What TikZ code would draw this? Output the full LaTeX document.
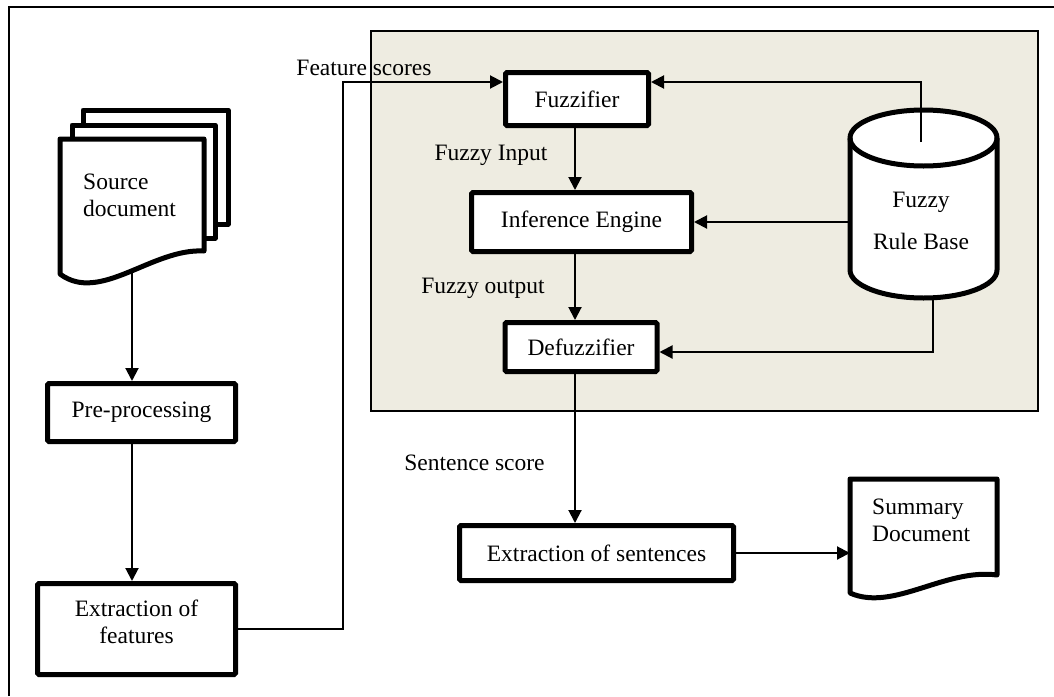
\documentclass[tikz,border=0pt]{standalone}
\usepackage{fontspec}
\setmainfont{Liberation Serif}
\usetikzlibrary{arrows.meta}
\definecolor{panelfill}{RGB}{238,236,225}
\tikzset{
  lbl/.style={font=\fontsize{23.5}{27}\selectfont, inner sep=0pt},
  box/.style={lbl, draw, line width=5pt, fill=white, rounded corners=1.5pt, align=center},
  doc/.style={draw, line width=5pt, fill=white, line join=round},
  link/.style={line width=2pt},
  arr/.style={link, -{Triangle[length=13pt,width=13pt]}},
  panel/.style={draw, line width=2pt, fill=panelfill},
}
\begin{document}
\begin{tikzpicture}[x=1pt,y=-1pt]
\useasboundingbox (0,0) rectangle (1054,696);

% outer frame
\draw[link] (9,696) -- (9,7) -- (1054,7);

% fuzzy inference system panel
\node[panel, minimum width=667pt, minimum height=380pt] (fis) at (704.5,221) {};

% stack of source documents
\draw[doc] (83,110) rectangle (228,224);
\draw[doc] (72,125) rectangle (215,238);
\draw[doc] (60,139) -- (60,274) .. controls (100,304) and (152,248) .. (204,251) -- (204,139) -- cycle;
\node[lbl, align=left, anchor=west] (srctext) at (83,195.5) {Source\\document};
\coordinate (srcbot) at (132,271);

% fuzzy rule base cylinder
\draw[doc] (850,138) -- (850,270)
  .. controls (850,285.46) and (882.9,298) .. (923.5,298)
  .. controls (964.1,298) and (997,285.46) .. (997,270)
  -- (997,138)
  .. controls (997,122.54) and (964.1,110) .. (923.5,110)
  .. controls (882.9,110) and (850,122.54) .. (850,138) -- cycle;
\draw[doc, fill=none] (850,138)
  .. controls (850,153.46) and (882.9,166) .. (923.5,166)
  .. controls (964.1,166) and (997,153.46) .. (997,138);
\node[lbl, align=center] (rulebase) at (921,221) {Fuzzy\\[15pt]Rule Base};
\coordinate (rbtop) at (921,142);
\coordinate (rbleft) at (850,222);
\coordinate (rbbot) at (933,298);
\coordinate (rbturn) at (933,352);

% summary document
\draw[doc] (850,479) -- (850,593) .. controls (893,612) and (945,568) .. (997,575) -- (997,479) -- cycle;
\node[lbl, align=left, anchor=west] (sumtext) at (872,520) {Summary\\Document};
\coordinate (sumin) at (850,553);

% process boxes
\node[box, minimum width=143pt, minimum height=53pt] (fuzz) at (577,99) {Fuzzifier};
\node[box, minimum width=220pt, minimum height=59pt] (inf) at (581.5,222) {Inference Engine};
\node[box, minimum width=152pt, minimum height=49pt] (defuzz) at (581,347) {Defuzzifier};
\node[box, minimum width=274pt, minimum height=55pt] (sent) at (596.5,553) {Extraction of sentences};
\node[box, minimum width=188pt, minimum height=58pt] (pre) at (141.5,412.5) {Pre-processing};
\node[box, minimum width=198pt, minimum height=91pt] (feat) at (136.5,629) {};
\node[lbl, align=center] (feattext) at (136.5,621.5) {Extraction of\\features};

% connector labels
\node[lbl] (fslbl) at (364,68) {Feature scores};
\node[lbl] (filbl) at (491,155) {Fuzzy Input};
\node[lbl] (folbl) at (483,288) {Fuzzy output};
\node[lbl] (sslbl) at (474.5,463) {Sentence score};

% connectors
\coordinate (bend) at (343,82);
\coordinate (spine) at (575,0);
\draw[arr] (srcbot) -- (srcbot |- pre.north);
\draw[arr] (srcbot |- pre.south) -- (srcbot |- feat.north);
\draw[arr] (feat.east) -| (bend) -- (bend -| fuzz.west);
\draw[arr] (rbtop) |- (fuzz.east |- bend);
\draw[arr] (rbleft) -- (inf.east |- rbleft);
\draw[arr] (rbbot) -- (rbturn) -- (rbturn -| defuzz.east);
\draw[arr] (spine |- fuzz.south) -- (spine |- inf.north);
\draw[arr] (spine |- inf.south) -- (spine |- defuzz.north);
\draw[arr] (spine |- defuzz.south) -- (spine |- sent.north);
\draw[arr] (sent.east) -- (sumin);
\end{tikzpicture}
\end{document}
